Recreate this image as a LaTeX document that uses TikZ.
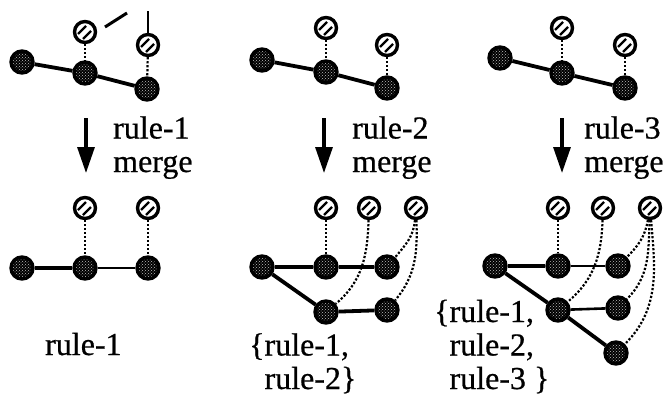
\documentclass[tikz,border=0pt]{standalone}
\usepackage{fontspec}
\setmainfont{Liberation Serif}
\newfontfamily\lblfont[FakeBold=0.6]{Liberation Serif}
\usetikzlibrary{arrows.meta,patterns}

\tikzset{
  dark/.style={circle, draw, line width=3.4pt, minimum size=22pt, inner sep=0pt,
    preaction={fill=black}, pattern=crosshatch dots, pattern color=white!75!black},
  hatched/.style={circle, draw, line width=3.4pt, minimum size=21pt, inner sep=0pt, fill=white,
    path picture={
      \draw[line width=2.2pt] ([shift={(-7pt,-2pt)}]path picture bounding box.center) -- ++(8pt,8pt);
      \draw[line width=2.2pt] ([shift={(-2pt,-7pt)}]path picture bounding box.center) -- ++(8pt,8pt);
    }},
  bond/.style={line width=3.8pt},
  thinbond/.style={line width=2.6pt},
  link/.style={line width=2.2pt, dash pattern=on 2.2pt off 1.8pt},
  down/.style={line width=3.2pt, -{Triangle[length=26pt,width=17pt]}},
  lbl/.style={font=\lblfont\fontsize{32}{33.5}\selectfont, inner sep=0pt, anchor=base west, align=left}
}

\begin{document}
\begin{tikzpicture}[x=1pt,y=-1pt]
\useasboundingbox (0,0) rectangle (671,401);
\fill[white] (0,0) rectangle (671,401);

% ---------- column 1: before ----------
\node[dark]    (a1) at (22,62) {};
\node[dark]    (b1) at (85,73) {};
\node[dark]    (c1) at (147,89) {};
\node[hatched] (p1) at (85,32) {};
\node[hatched] (q1) at (148,45) {};
\draw[bond] (a1) -- (b1) -- (c1);
\draw[link] (p1) -- (b1);
\draw[link] (q1) -- (c1);
\coordinate (s1) at (105,27);
\coordinate (s2) at (127,13);
\coordinate (t1) at (148,11);
\draw[line width=3pt] (s1) -- (s2);
\draw[line width=1.5pt] (q1) -- (t1);

% ---------- column 2: before ----------
\node[dark]    (a2) at (262,60) {};
\node[dark]    (b2) at (326,72) {};
\node[dark]    (c2) at (387,88) {};
\node[hatched] (p2) at (326,28) {};
\node[hatched] (q2) at (387,45) {};
\draw[bond] (a2) -- (b2) -- (c2);
\draw[link] (p2) -- (b2);
\draw[link] (q2) -- (c2);

% ---------- column 3: before ----------
\node[dark]    (a3) at (500,58) {};
\node[dark]    (b3) at (562,73) {};
\node[dark]    (c3) at (625,88) {};
\node[hatched] (p3) at (562,28) {};
\node[hatched] (q3) at (625,45) {};
\draw[bond] (a3) -- (b3) -- (c3);
\draw[link] (p3) -- (b3);
\draw[link] (q3) -- (c3);

% ---------- merge steps ----------
\coordinate (d1s) at (86,118);  \coordinate (d1e) at (86,173);
\coordinate (d2s) at (324,118); \coordinate (d2e) at (324,173);
\coordinate (d3s) at (562,118); \coordinate (d3e) at (562,173);
\draw[down] (d1s) -- (d1e);
\draw[down] (d2s) -- (d2e);
\draw[down] (d3s) -- (d3e);
% base anchor of a two-line label sits on its last line
\node[lbl] (m1) at (113,172) {rule-1\\merge};
\node[lbl] (m2) at (352,172) {rule-2\\merge};
\node[lbl] (m3) at (584,172) {rule-3\\merge};

% ---------- column 1: after rule-1 ----------
\node[hatched] (u1) at (85,208) {};
\node[hatched] (v1) at (148,208) {};
\node[dark]    (x1) at (22,268) {};
\node[dark]    (y1) at (85,268) {};
\node[dark]    (z1) at (148,268) {};
\draw[bond] (x1) -- (y1);
\draw[thinbond] (y1) -- (z1);
\draw[link] (u1) -- (y1);
\draw[link] (v1) -- (z1);
\node[lbl] (r1) at (45,355) {rule-1};

% ---------- column 2: after rule-2 ----------
\node[hatched] (u2) at (326,208) {};
\node[hatched] (v2) at (369,208) {};
\node[hatched] (w2) at (416,208) {};
\node[dark]    (x2) at (262,267) {};
\node[dark]    (y2) at (326,267) {};
\node[dark]    (z2) at (387,267) {};
\node[dark]    (g2) at (326,312) {};
\node[dark]    (h2) at (387,310) {};
\draw[bond] (x2) -- (y2) -- (z2);
\draw[bond] (x2) -- (g2);
\draw[bond] (g2) -- (h2);
\draw[link] (u2) -- (y2);
\draw[link] (v2) to[out=-92,in=40] (g2);
\draw[link] (w2) to[out=-95,in=50] (z2);
\draw[link] (w2) to[out=-88,in=50] (h2);
\node[lbl] (r2) at (249,389) {\{rule-1,\\\hphantom{\{}rule-2\}};

% ---------- column 3: after rule-3 ----------
\node[hatched] (u3) at (558,208) {};
\node[hatched] (v3) at (603,208) {};
\node[hatched] (w3) at (650,208) {};
\node[dark]    (x3) at (495,266) {};
\node[dark]    (y3) at (558,266) {};
\node[dark]    (z3) at (618,266) {};
\node[dark]    (g3) at (558,310) {};
\node[dark]    (h3) at (618,308) {};
\node[dark]    (k3) at (616,353) {};
\draw[bond] (x3) -- (y3);
\draw[thinbond] (y3) -- (z3);
\draw[bond] (x3) -- (g3) -- (k3);
\draw[thinbond] (g3) -- (h3);
\draw[link] (u3) -- (y3);
\draw[link] (v3) to[out=-92,in=40] (g3);
\draw[link] (w3) to[out=-100,in=45] (z3);
\draw[link] (w3) to[out=-92,in=45] (h3);
\draw[link] (w3) to[out=-85,in=45] (k3);
\node[lbl] (r3) at (434,389) {\{rule-1,\\\hphantom{\{}rule-2,\\\hphantom{\{}rule-3 \}};
\end{tikzpicture}
\end{document}
